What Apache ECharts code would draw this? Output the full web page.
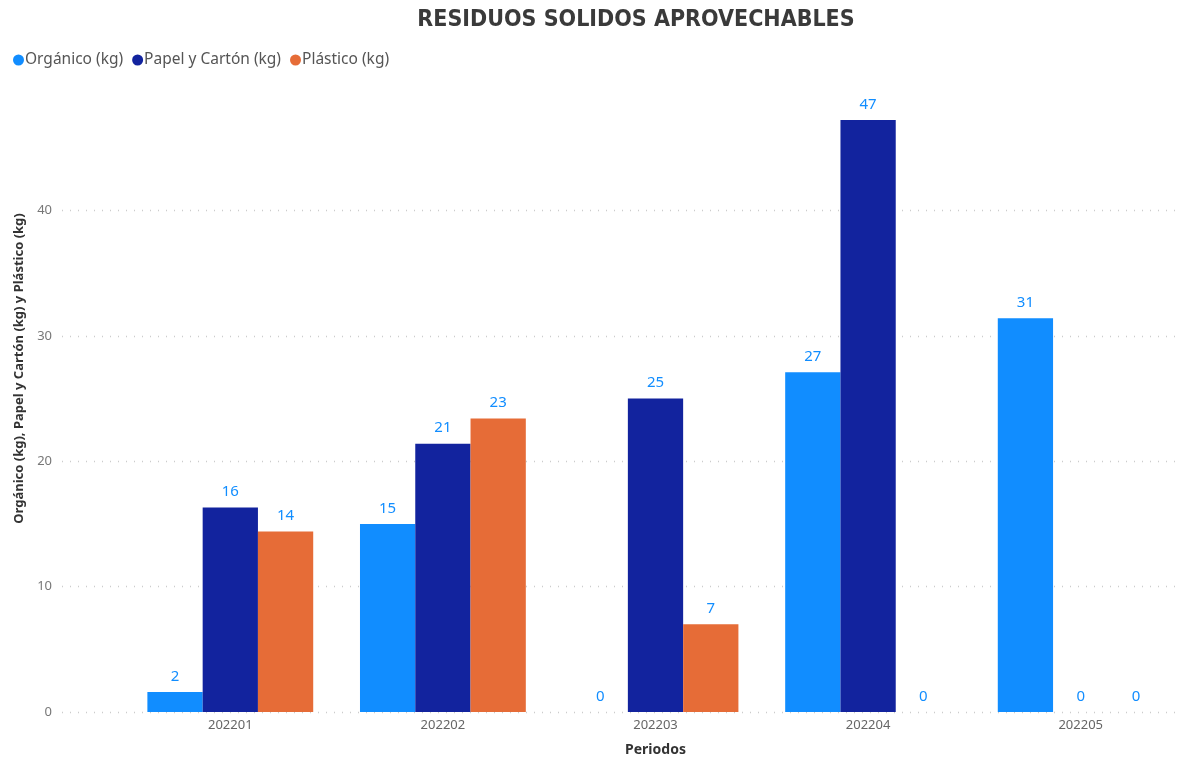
<!DOCTYPE html>
<html>
<head>
<meta charset="utf-8">
<script src="https://cdn.jsdelivr.net/npm/echarts@6/dist/echarts.min.js"></script>
<style>
  html, body { margin: 0; padding: 0; background: #fff; }
  #chart { width: 1191px; height: 758px; }
</style>
</head>
<body>
<div id="chart"></div>
<script>
// periodos y valores (kg)
const periodos = ['202201', '202202', '202203', '202204', '202205'];
const organico = [1.6, 15.0, 0, 27.1, 31.4];
const papelCarton = [16.3, 21.4, 25.0, 47.2, 0];
const plastico = [14.4, 23.4, 7.0, 0, 0];
const yTicks = [0, 10, 20, 30, 40];

const fontFam = "'Noto Sans', 'Open Sans', sans-serif";

const myChart = echarts.init(document.getElementById('chart'));

function barSerie(name, data, color) {
  return {
    name: name,
    type: 'bar',
    xAxisIndex: 1,
    yAxisIndex: 1,
    data: data,
    barGap: '0%',
    barCategoryGap: '22%',
    itemStyle: { color: color },
    label: {
      show: true,
      position: 'top',
      distance: 8,
      color: '#118DFF',
      fontSize: 15,
      fontFamily: fontFam,
      formatter: p => Math.round(p.value)
    }
  };
}

const option = {
  animation: false,
  title: {
    text: 'RESIDUOS SOLIDOS APROVECHABLES',
    left: 631,
    top: 4,
    textAlign: 'center',
    textStyle: {
      fontFamily: "'DejaVu Sans Condensed', 'DejaVu Sans', sans-serif",
      fontSize: 23,
      fontWeight: 'bold',
      color: '#3a3a3a'
    }
  },
  legend: {
    left: 8,
    top: 47,
    icon: 'circle',
    itemWidth: 11,
    itemHeight: 11,
    itemGap: 9,
    textStyle: { color: '#555', fontSize: 15.5, fontFamily: fontFam, padding: [0, 0, 0, -4] },
    data: ['Orgánico (kg)', 'Papel y Cartón (kg)', 'Plástico (kg)']
  },
  grid: [
    { left: 62, right: 10, top: 85, bottom: 46, outerBoundsMode: 'none' },
    { left: 124, right: 4, top: 85, bottom: 46, outerBoundsMode: 'none' }
  ],
  xAxis: [
    { gridIndex: 0, type: 'value', show: false, min: 0, max: 1 },
    {
      gridIndex: 1,
      type: 'category',
      data: periodos,
      axisLine: { show: false },
      axisTick: { show: false },
      axisLabel: { color: '#666', fontSize: 13, fontFamily: fontFam, margin: 7 },
      name: 'Periodos',
      nameLocation: 'middle',
      nameGap: 31,
      nameTextStyle: { color: '#333', fontSize: 14, fontWeight: 'bold', fontFamily: fontFam }
    }
  ],
  yAxis: [
    {
      gridIndex: 0,
      type: 'value',
      min: 0,
      max: 50,
      interval: 10,
      axisLine: { show: false },
      axisTick: { show: false },
      axisLabel: {
        color: '#777',
        fontSize: 13,
        fontFamily: fontFam,
        margin: 10,
        formatter: v => (yTicks.includes(v) ? v : '')
      },
      splitLine: { showMaxLine: false, lineStyle: { color: '#ccc', type: [1, 7], width: 1.3 } },
      name: 'Orgánico (kg), Papel y Cartón (kg) y Plástico (kg)',
      nameLocation: 'middle',
      nameGap: 35,
      nameTextStyle: { color: '#333', fontSize: 13, fontWeight: 'bold', fontFamily: fontFam, padding: [0, 0, 0, 60] }
    },
    { gridIndex: 1, type: 'value', min: 0, max: 50, show: false }
  ],
  series: [
    barSerie('Orgánico (kg)', organico, '#118DFF'),
    barSerie('Papel y Cartón (kg)', papelCarton, '#12239E'),
    barSerie('Plástico (kg)', plastico, '#E66C37')
  ]
};

myChart.setOption(option);
</script>
</body>
</html>
